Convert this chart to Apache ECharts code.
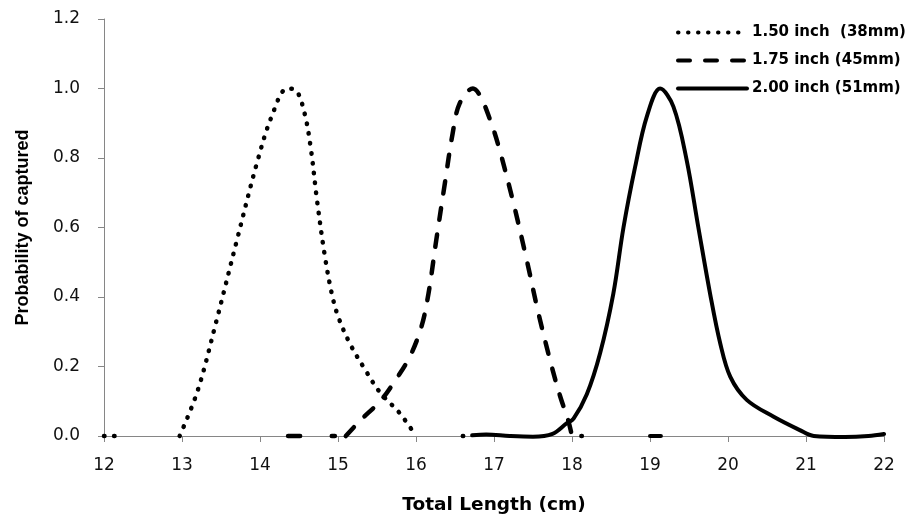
<!DOCTYPE html>
<html>
<head>
<meta charset="utf-8">
<script src="https://cdn.jsdelivr.net/npm/echarts@6/dist/echarts.min.js"></script>
<style>
html,body{margin:0;padding:0;background:#fff;}
#chart{width:909px;height:523px;}
</style>
</head>
<body>
<div id="chart"></div>
<script>
// ---- data (x = total length cm, y = probability of capture); null = gap ----
const seriesNames = ['1.50 inch  (38mm)', '1.75 inch (45mm)', '2.00 inch (51mm)'];

const mesh150 = [
  [12.0, 0], [12.14, 0], null,
  [12.97, 0], [13.2, 0.13], [13.44, 0.33], [13.7, 0.56], [13.96, 0.785], [14.15, 0.92],
  [14.35, 1.0], [14.46, 0.995], [14.57, 0.93], [14.65, 0.83], [14.73, 0.68], [14.83, 0.52],
  [14.92, 0.41], [15.0, 0.345], [15.15, 0.267], [15.35, 0.19], [15.54, 0.125], [15.79, 0.066], [16.0, 0], null,
  [16.6, 0], [16.65, 0], null,
  [18.12, 0], [18.16, 0]
];

const mesh175 = [
  [14.36, 0], [14.52, 0], null,
  [14.92, 0], [14.96, 0], null,
  [15.1, 0], [15.3, 0.048], [15.54, 0.10], [15.71, 0.152], [15.92, 0.228], [16.07, 0.315],
  [16.16, 0.41], [16.26, 0.564], [16.37, 0.727], [16.47, 0.871], [16.56, 0.957], [16.73, 1.0],
  [16.82, 0.98], [16.95, 0.91], [17.06, 0.833], [17.25, 0.67], [17.42, 0.506], [17.57, 0.353],
  [17.74, 0.20], [17.85, 0.113], [17.95, 0.046], [18.0, 0]
];

const mesh200 = [
  [16.72, 0.002], [16.9, 0.004], [17.2, 0.0], [17.5, -0.002], [17.75, 0.006], [17.93, 0.036],
  [18.02, 0.05], [18.19, 0.12], [18.36, 0.238], [18.53, 0.41], [18.66, 0.6], [18.81, 0.775],
  [18.96, 0.92], [19.13, 1.0], [19.3, 0.948], [19.47, 0.794], [19.62, 0.6], [19.77, 0.41],
  [19.9, 0.267], [20.03, 0.17], [20.24, 0.104], [20.58, 0.056], [20.92, 0.017], [21.1, 0],
  [21.5, -0.003], [21.8, 0.0], [22.0, 0.006], null,
  [19.0, 0], [19.14, 0]
];

const xTicks = { min: 12, max: 22, interval: 1 };
const yTicks = { min: 0, max: 1.2, interval: 0.2 };

function toData(arr) {
  return arr.map(p => p === null ? ['-', '-'] : p);
}

const chart = echarts.init(document.getElementById('chart'), null, { renderer: 'canvas' });
const axisGray = '#868686';

const option = {
  animation: false,
  backgroundColor: '#ffffff',
  grid: { left: 104, right: 25, top: 19, bottom: 87, containLabel: false },
  legend: {
    orient: 'vertical',
    left: 676,
    top: 25,
    padding: 0,
    itemWidth: 69,
    itemHeight: 14,
    itemGap: 13,
    data: seriesNames,
    lineStyle: { width: 4 },
    itemStyle: { opacity: 0 },
    textStyle: { fontFamily: 'DejaVu Sans', fontWeight: 'bold', fontSize: 15, color: '#000' }
  },
  xAxis: {
    type: 'value',
    min: xTicks.min, max: xTicks.max, interval: xTicks.interval,
    name: 'Total Length (cm)',
    nameLocation: 'middle',
    nameGap: 60,
    nameTextStyle: { fontFamily: 'DejaVu Sans', fontWeight: 'bold', fontSize: 18.5, color: '#000' },
    axisLine: { show: true, onZero: false, lineStyle: { color: axisGray, width: 1 } },
    axisTick: { show: true, inside: false, length: 6, lineStyle: { color: axisGray } },
    axisLabel: { margin: 21, fontFamily: 'DejaVu Sans', fontSize: 17, color: '#111' },
    splitLine: { show: false }
  },
  yAxis: {
    type: 'value',
    min: yTicks.min, max: yTicks.max, interval: yTicks.interval,
    name: 'Probability of captured',
    nameLocation: 'middle',
    nameGap: 72,
    nameTextStyle: { fontFamily: 'Liberation Sans', fontWeight: 'bold', fontSize: 18, color: '#000' },
    axisLine: { show: true, lineStyle: { color: axisGray, width: 1 } },
    axisTick: { show: true, inside: false, length: 6, lineStyle: { color: axisGray } },
    axisLabel: { margin: 24, fontFamily: 'DejaVu Sans', fontSize: 17, color: '#111',
      formatter: v => v.toFixed(1) },
    splitLine: { show: false }
  },
  series: [
    {
      name: seriesNames[0], type: 'line', data: toData(mesh150), smooth: 0.35,
      symbol: 'none', clip: false, connectNulls: false,
      lineStyle: { color: '#000', width: 4.5, type: [0.5, 9.5], cap: 'round', join: 'round' },
      itemStyle: { color: '#000' }
    },
    {
      name: seriesNames[1], type: 'line', data: toData(mesh175), smooth: 0.35,
      symbol: 'none', clip: false, connectNulls: false,
      lineStyle: { color: '#000', width: 4.5, type: [12, 15], cap: 'round', join: 'round' },
      itemStyle: { color: '#000' }
    },
    {
      name: seriesNames[2], type: 'line', data: toData(mesh200), smooth: 0.35,
      symbol: 'none', clip: false, connectNulls: false,
      lineStyle: { color: '#000', width: 4, type: 'solid', cap: 'round', join: 'round' },
      itemStyle: { color: '#000' }
    }
  ]
};
chart.setOption(option);
</script>
</body>
</html>
